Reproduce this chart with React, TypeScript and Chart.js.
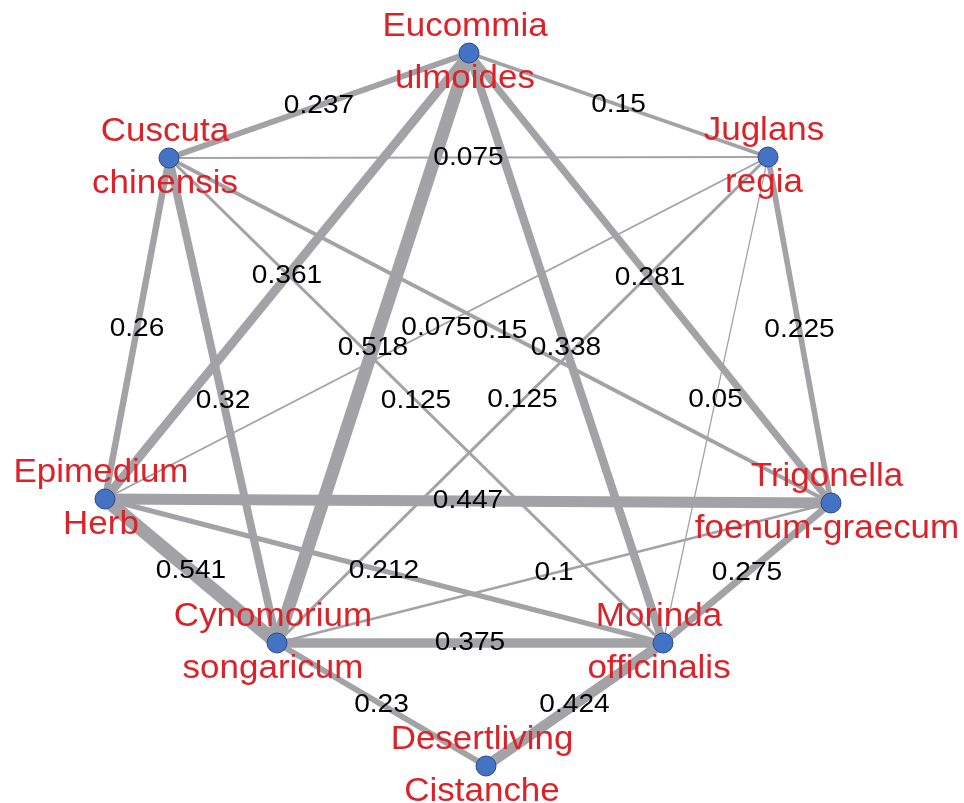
import React, { useEffect, useRef } from "react";
import { Chart, registerables } from "chart.js";

Chart.register(...registerables);

// Nodes
const nodeLine1 = ["Eucommia", "Juglans", "Trigonella", "Morinda", "Desertliving", "Cynomorium", "Epimedium", "Cuscuta"];
const nodeLine2 = ["ulmoides", "regia", "foenum-graecum", "officinalis", "Cistanche", "songaricum", "Herb", "chinensis"];
const nodeX = [469, 768, 831, 663, 486, 277, 105, 169];
const nodeY = [53, 157, 503, 643, 766, 643, 499, 158];

// Edges
const edgeSource = [0, 0, 7, 0, 0, 0, 0, 7, 7, 7, 7, 1, 1, 1, 1, 6, 6, 6, 5, 5, 2, 5, 3];
const edgeTarget = [7, 1, 1, 6, 5, 3, 2, 6, 5, 3, 2, 6, 5, 2, 3, 2, 5, 3, 2, 3, 3, 4, 4];
const edgeWeight = [0.237, 0.15, 0.075, 0.361, 0.518, 0.338, 0.281, 0.26, 0.32, 0.125, 0.15, 0.075, 0.125, 0.225, 0.05, 0.447, 0.541, 0.212, 0.1, 0.375, 0.275, 0.23, 0.424];

const W = 964;
const H = 803;

export default function App() {
  const ref = useRef<HTMLCanvasElement | null>(null);

  useEffect(() => {
    if (!ref.current) return;

    const edgeDatasets = edgeWeight.map((w, i) => ({
      type: "line" as const,
      data: [
        { x: nodeX[edgeSource[i]], y: nodeY[edgeSource[i]] },
        { x: nodeX[edgeTarget[i]], y: nodeY[edgeTarget[i]] },
      ],
      showLine: true,
      borderColor: "#a3a3a7",
      borderWidth: Math.max(1, w * 25),
      borderCapStyle: "butt" as const,
      pointRadius: 0,
      fill: false,
      order: 2,
    }));

    const nodeDataset = {
      type: "scatter" as const,
      data: nodeX.map((x, i) => ({ x, y: nodeY[i] })),
      pointRadius: 10,
      pointBackgroundColor: "#4472c4",
      pointBorderColor: "#2b4a8a",
      pointBorderWidth: 1,
      order: 0,
    };

    const labelPlugin = {
      id: "netLabels",
      afterDatasetsDraw(chart: any) {
        const ctx = chart.ctx as CanvasRenderingContext2D;
        const xs = chart.scales.x;
        const ys = chart.scales.y;
        ctx.save();
        // edge weight labels
        ctx.fillStyle = "#000000";
        ctx.textAlign = "center";
        ctx.textBaseline = "middle";
        ctx.font = "26px 'Liberation Sans', Arial, sans-serif";
        edgeWeight.forEach((w, i) => {
          const mx = (nodeX[edgeSource[i]] + nodeX[edgeTarget[i]]) / 2;
          const my = (nodeY[edgeSource[i]] + nodeY[edgeTarget[i]]) / 2;
          const px = xs.getPixelForValue(mx);
          const py = ys.getPixelForValue(my);
          ctx.save();
          ctx.translate(px, py);
          ctx.scale(1.08, 1);
          ctx.fillText(String(w), 0, 0);
          ctx.restore();
        });
        // node labels
        ctx.fillStyle = "#db2228";
        ctx.textBaseline = "alphabetic";
        ctx.font = "33px 'Liberation Sans', Arial, sans-serif";
        nodeX.forEach((x, i) => {
          const px = xs.getPixelForValue(x) - 4;
          const py = ys.getPixelForValue(nodeY[i]);
          ctx.save();
          ctx.translate(px, py - 17);
          ctx.scale(1.06, 1);
          ctx.fillText(nodeLine1[i], 0, 0);
          ctx.restore();
          ctx.save();
          ctx.translate(px, py + 35);
          ctx.scale(1.06, 1);
          ctx.fillText(nodeLine2[i], 0, 0);
          ctx.restore();
        });
        ctx.restore();
      },
    };

    const chart = new Chart(ref.current, {
      type: "scatter",
      data: { datasets: [nodeDataset as any, ...(edgeDatasets as any[])] },
      options: {
        animation: false,
        responsive: false,
        devicePixelRatio: 1,
        layout: { padding: 0, autoPadding: false },
        plugins: { legend: { display: false }, tooltip: { enabled: false } },
        scales: {
          x: { type: "linear", min: 0, max: W, display: false },
          y: { type: "linear", min: 0, max: H, reverse: true, display: false },
        },
      },
      plugins: [labelPlugin],
    });

    return () => chart.destroy();
  }, []);

  return (
    <div style={{ position: "fixed", left: 0, top: 0, width: W, height: H, background: "#ffffff" }}>
      <canvas ref={ref} width={W} height={H} style={{ width: W, height: H, display: "block" }} />
    </div>
  );
}
